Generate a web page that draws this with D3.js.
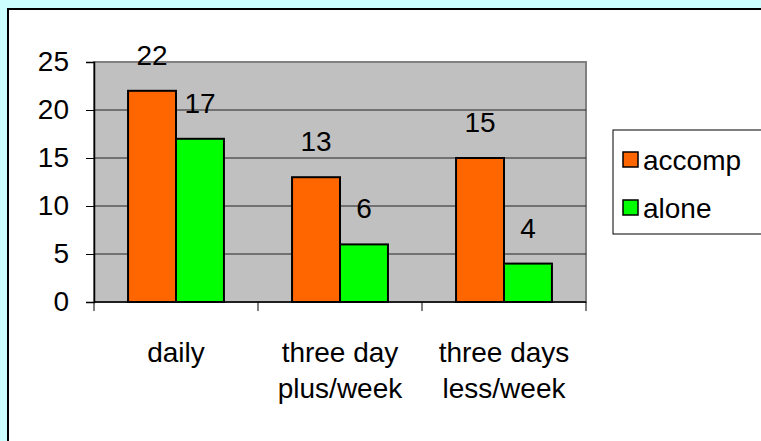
<!DOCTYPE html>
<html>
<head>
<meta charset="utf-8">
<script src="https://cdn.jsdelivr.net/npm/d3@7"></script>
<style>
  body { margin: 0; background: #ccffff; }
  svg { display: block; font-family: Arial, "Liberation Sans", sans-serif; }
</style>
</head>
<body>
<svg id="chart" width="761" height="441"></svg>
<script>
// chart data
var categories = [["daily"], ["three day", "plus/week"], ["three days", "less/week"]];
var seriesNames = ["accomp", "alone"];
var accomp = [22, 13, 15];
var alone = [17, 6, 4];
var yTicks = [0, 5, 10, 15, 20, 25];
var colors = ["#ff6600", "#00ff00"];

var series = [accomp, alone];
var fs = 28;

var svg = d3.select("#chart");

// white chart frame
svg.append("rect").attr("x", 8).attr("y", 9).attr("width", 800).attr("height", 500)
  .attr("fill", "#ffffff").attr("stroke", "#000").attr("stroke-width", 2);

var plot = { left: 94, top: 62, right: 586, bottom: 302 };

var x = d3.scaleBand().domain(d3.range(categories.length))
  .range([plot.left, plot.right]).paddingInner(0).paddingOuter(0);
var xs = d3.scaleBand().domain(d3.range(series.length))
  .range([0, x.bandwidth()]).paddingInner(0).paddingOuter(0.71);
var y = d3.scaleLinear().domain([0, 25]).range([plot.bottom, plot.top]);

// plot area
svg.append("rect").attr("x", plot.left).attr("y", plot.top)
  .attr("width", plot.right - plot.left).attr("height", plot.bottom - plot.top)
  .attr("fill", "#c0c0c0").attr("stroke", "#808080").attr("stroke-width", 2);

// gridlines
svg.append("g").selectAll("line").data(yTicks.filter(function (d) { return d > 0 && d < 25; }))
  .join("line")
  .attr("x1", plot.left).attr("x2", plot.right)
  .attr("y1", function (d) { return y(d); }).attr("y2", function (d) { return y(d); })
  .attr("stroke", "#222").attr("stroke-width", 1);

// y axis
var yAxis = svg.append("g").attr("transform", "translate(" + plot.left + ",0)")
  .call(d3.axisLeft(y).tickValues(yTicks).tickSize(8).tickPadding(17));
yAxis.select(".domain").attr("stroke", "#000").attr("stroke-width", 1.5);
yAxis.selectAll(".tick line").attr("stroke", "#000");
yAxis.selectAll("text").attr("font-size", fs).attr("fill", "#000")
  .attr("font-family", "Arial, 'Liberation Sans', sans-serif");

// x axis
var xAxisG = svg.append("g");
xAxisG.append("line").attr("x1", plot.left).attr("x2", plot.right)
  .attr("y1", plot.bottom).attr("y2", plot.bottom).attr("stroke", "#000").attr("stroke-width", 1.5);
xAxisG.selectAll("line.tk").data(d3.range(categories.length + 1)).join("line")
  .attr("class", "tk")
  .attr("x1", function (i) { return i < categories.length ? x(i) : plot.right; })
  .attr("x2", function (i) { return i < categories.length ? x(i) : plot.right; })
  .attr("y1", plot.bottom).attr("y2", plot.bottom + 9)
  .attr("stroke", "#000");

// category labels
var catLabels = xAxisG.selectAll("text.cat").data(categories).join("text")
  .attr("class", "cat")
  .attr("x", function (d, i) { return x(i) + x.bandwidth() / 2; })
  .attr("y", 362)
  .attr("text-anchor", "middle").attr("font-size", fs).attr("fill", "#000");
catLabels.selectAll("tspan").data(function (d) { return d; }).join("tspan")
  .attr("x", function () { return d3.select(this.parentNode).attr("x"); })
  .attr("dy", function (d, i) { return i === 0 ? 0 : 36; })
  .text(function (d) { return d; });

// bars
var groups = svg.append("g").selectAll("g").data(series).join("g");
groups.selectAll("rect").data(function (d, si) { return d.map(function (v, ci) { return { v: v, ci: ci, si: si }; }); })
  .join("rect")
  .attr("x", function (d) { return x(d.ci) + xs(d.si); })
  .attr("y", function (d) { return y(d.v); })
  .attr("width", xs.bandwidth())
  .attr("height", function (d) { return plot.bottom - y(d.v); })
  .attr("fill", function (d) { return colors[d.si]; })
  .attr("stroke", "#000").attr("stroke-width", 2);

// value labels
groups.selectAll("text").data(function (d, si) { return d.map(function (v, ci) { return { v: v, ci: ci, si: si }; }); })
  .join("text")
  .attr("x", function (d) { return x(d.ci) + xs(d.si) + xs.bandwidth() / 2; })
  .attr("y", function (d) { return y(d.v) - 26; })
  .attr("text-anchor", "middle").attr("font-size", fs).attr("fill", "#000")
  .text(function (d) { return d.v; });

// legend
var legend = svg.append("g");
legend.append("rect").attr("x", 613).attr("y", 130).attr("width", 200).attr("height", 104)
  .attr("fill", "#fff").attr("stroke", "#000").attr("stroke-width", 1);
var items = legend.selectAll("g").data(seriesNames).join("g")
  .attr("transform", function (d, i) { return "translate(623," + (152 + i * 48) + ")"; });
items.append("rect").attr("width", 15).attr("height", 15)
  .attr("fill", function (d, i) { return colors[i]; })
  .attr("stroke", "#000").attr("stroke-width", 1.5);
items.append("text").attr("x", 20).attr("y", 18).attr("font-size", fs).attr("fill", "#000")
  .text(function (d) { return d; });
</script>
</body>
</html>
